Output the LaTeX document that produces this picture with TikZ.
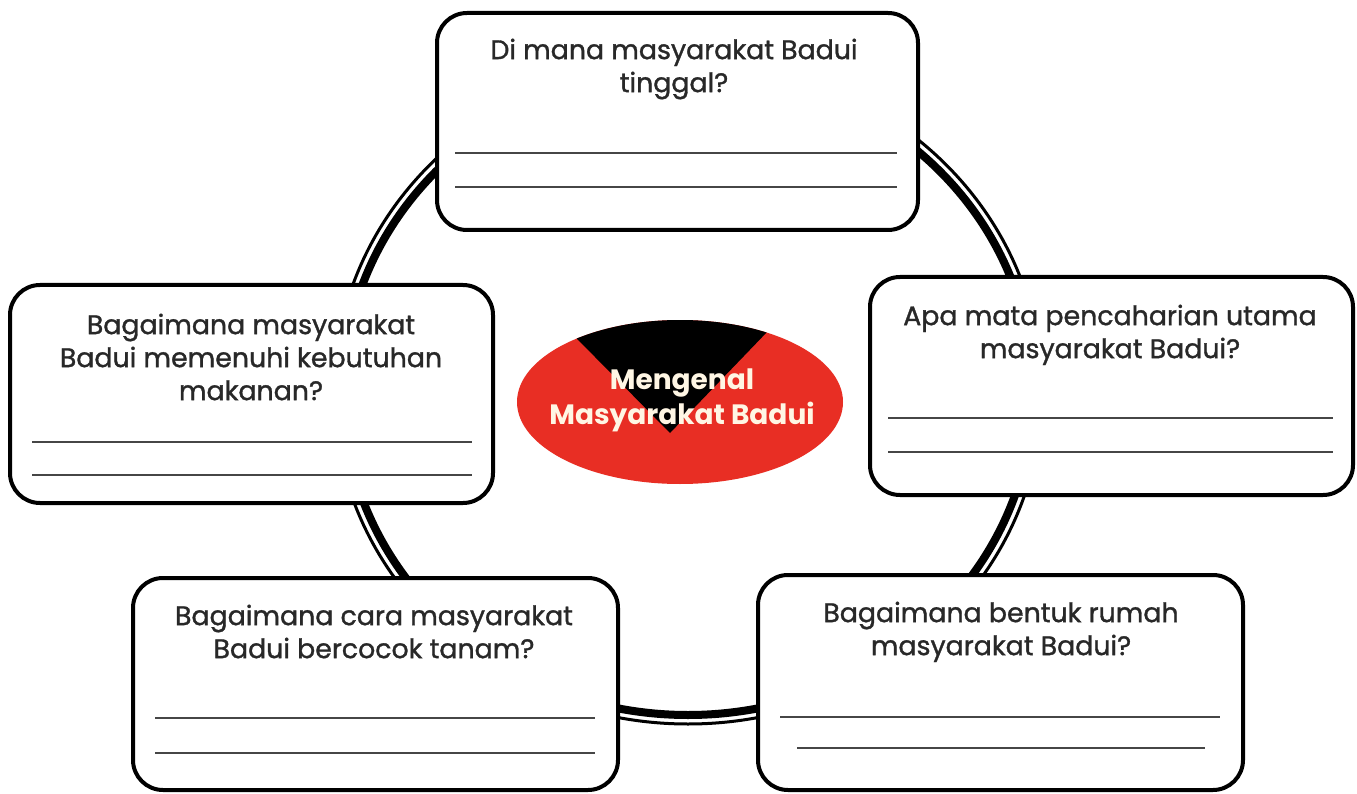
\documentclass[tikz,border=0pt]{standalone}
\usepackage{fontspec}
\setmainfont{Poppins}[FakeBold=1.2]
\newfontfamily\hubfont{Poppins}
\usetikzlibrary{shapes.geometric}
\definecolor{hubred}{RGB}{232,46,36}
\definecolor{hubtext}{RGB}{255,246,228}
\definecolor{ink}{RGB}{40,40,40}
\definecolor{rulegray}{RGB}{70,70,70}
\begin{document}
\begin{tikzpicture}[x=1pt,y=-1pt,
  qbox/.style={draw=black, line width=4pt, rounded corners=30pt, fill=white, inner sep=0pt},
  qtext/.style={font=\fontsize{26.8}{33}\selectfont, text=ink, align=center, inner sep=0pt, anchor=north},
  wline/.style={draw=rulegray, line width=2pt},
  ringthick/.style={draw=black, line width=8pt},
  ringthin/.style={draw=black, line width=3pt},
  hubtxt/.style={inner sep=0pt, font=\hubfont\bfseries\fontsize{28}{35}\selectfont, text=hubtext, align=center}
]
\useasboundingbox (0,0) rectangle (1357,794);
\fill[white] (0,0) rectangle (1357,794);
% ring
\draw[ringthin] (688,392) ellipse [x radius=354pt, y radius=332pt];
\draw[ringthick] (688,392) ellipse [x radius=345pt, y radius=323pt];
% boxes
\node[qbox, minimum width=481pt, minimum height=217pt] (qtop) at (677.5,121.5) {};
\node[qbox, minimum width=483pt, minimum height=218pt] (qright) at (1111.5,386) {};
\node[qbox, minimum width=483pt, minimum height=218pt] (qleft) at (251.5,394) {};
\node[qbox, minimum width=485pt, minimum height=212pt] (qbl) at (375.5,684) {};
\node[qbox, minimum width=485pt, minimum height=215pt] (qbr) at (1000.5,682.5) {};
% texts
\node[qtext] (ttop) at (674,38.5) {Di mana masyarakat Badui\\tinggal?};
\node[qtext] (tright) at (1110,304.5) {Apa mata pencaharian utama\\masyarakat Badui?};
\node[qtext] (tleft) at (251,313.5) {Bagaimana masyarakat\\Badui memenuhi kebutuhan\\makanan?};
\node[qtext] (tbl) at (374,604.5) {Bagaimana cara masyarakat\\Badui bercocok tanam?};
\node[qtext] (tbr) at (1001,601.5) {Bagaimana bentuk rumah\\masyarakat Badui?};
% writing lines
\draw[wline] (455,153) -- (897,153);
\draw[wline] (455,187) -- (897,187);
\draw[wline] (888,418) -- (1333,418);
\draw[wline] (888,452) -- (1333,452);
\draw[wline] (32,442) -- (472,442);
\draw[wline] (32,475) -- (472,475);
\draw[wline] (155,718) -- (595,718);
\draw[wline] (155,753) -- (595,753);
\draw[wline] (780,717) -- (1220,717);
\draw[wline] (797,748) -- (1205,748);
% hub
\fill[hubred] (680,402) ellipse [x radius=163pt, y radius=82pt];
\begin{scope}
  \clip (680,402) ellipse [x radius=163pt, y radius=82pt];
  \fill[black] (519,280) -- (817,280) -- (670,433) -- cycle;
\end{scope}
\node[hubtxt] (hub) at (682,400) {Mengenal\\Masyarakat Badui};
\end{tikzpicture}
\end{document}
